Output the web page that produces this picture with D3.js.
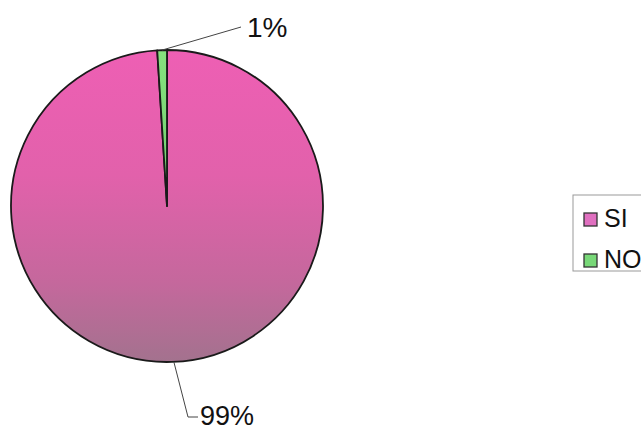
<!DOCTYPE html>
<html>
<head>
<meta charset="utf-8">
<script src="https://cdn.jsdelivr.net/npm/d3@7/dist/d3.min.js"></script>
<style>
  html, body { margin: 0; padding: 0; background: #fff; }
  svg { display: block; }
  text { font-family: "Liberation Sans", Arial, sans-serif; fill: #111; }
</style>
</head>
<body>
<svg id="chart" width="641" height="431"></svg>
<script>
// Answers and their shares (percent)
const categories = ["SI", "NO"];
const values = [99, 1];
const labels = ["99%", "1%"];

const svg = d3.select("#chart");
const cx = 167, cy = 206, r = 156;

// Vertical gradients (in the pie group's own coordinates): pink on top fading to mauve
const defs = svg.append("defs");
const gPink = defs.append("linearGradient").attr("id", "gPink")
  .attr("gradientUnits", "userSpaceOnUse")
  .attr("x1", 0).attr("y1", -r).attr("x2", 0).attr("y2", r);
gPink.append("stop").attr("offset", "0%").attr("stop-color", "#ee5fb4");
gPink.append("stop").attr("offset", "40%").attr("stop-color", "#e261ab");
gPink.append("stop").attr("offset", "75%").attr("stop-color", "#c4689c");
gPink.append("stop").attr("offset", "100%").attr("stop-color", "#a3728e");
const gGreen = defs.append("linearGradient").attr("id", "gGreen")
  .attr("gradientUnits", "userSpaceOnUse")
  .attr("x1", 0).attr("y1", -r).attr("x2", 0).attr("y2", r);
gGreen.append("stop").attr("offset", "0%").attr("stop-color", "#86e27e");
gGreen.append("stop").attr("offset", "100%").attr("stop-color", "#5cb860");

const fills = { SI: "url(#gPink)", NO: "url(#gGreen)" };
const legendFills = { SI: "#e070c0", NO: "#78d878" };

const pie = d3.pie().sort(null).value(d => d.value);
const arcs = pie(categories.map((c, i) => ({ cat: c, value: values[i], label: labels[i] })));
const arc = d3.arc().innerRadius(0).outerRadius(r);

const g = svg.append("g").attr("transform", `translate(${cx},${cy})`);
g.selectAll("path.slice").data(arcs).enter().append("path")
  .attr("class", "slice")
  .attr("d", arc)
  .attr("fill", d => fills[d.data.cat])
  .attr("stroke", "#1a1a1a")
  .attr("stroke-width", 1.8)
  .attr("stroke-linejoin", "round");

// Leader lines and percentage labels
const edge = d3.arc().innerRadius(r).outerRadius(r);
const noArc = arcs[1], siArc = arcs[0];
const pNo = edge.centroid(noArc);
const aSi = Math.PI * 0.986;
const pSi = [r * Math.sin(aSi), -r * Math.cos(aSi)];

g.append("path")
  .attr("d", d3.line()([[pNo[0], pNo[1]], [74, -179]]))
  .attr("fill", "none").attr("stroke", "#444").attr("stroke-width", 1);
g.append("text").attr("x", 80).attr("y", -169)
  .attr("font-size", 28).text(noArc.data.label);

g.append("path")
  .attr("d", d3.line()([[pSi[0], pSi[1]], [21, 211], [31, 211]]))
  .attr("fill", "none").attr("stroke", "#444").attr("stroke-width", 1);
g.append("text").attr("x", 33).attr("y", 219)
  .attr("font-size", 27).text(siArc.data.label);

// Legend
const lg = svg.append("g").attr("transform", "translate(573,195)");
lg.append("rect").attr("x", 0).attr("y", 0).attr("width", 80).attr("height", 76)
  .attr("fill", "#fff").attr("stroke", "#999").attr("stroke-width", 1);
const item = lg.selectAll("g.item").data(categories).enter().append("g")
  .attr("class", "item")
  .attr("transform", (d, i) => `translate(11,${18 + i * 41})`);
item.append("rect").attr("width", 13).attr("height", 13)
  .attr("fill", d => legendFills[d]).attr("stroke", "#333").attr("stroke-width", 1.3);
item.append("text").attr("x", 20).attr("y", 14).attr("font-size", 25).text(d => d);
</script>
</body>
</html>
